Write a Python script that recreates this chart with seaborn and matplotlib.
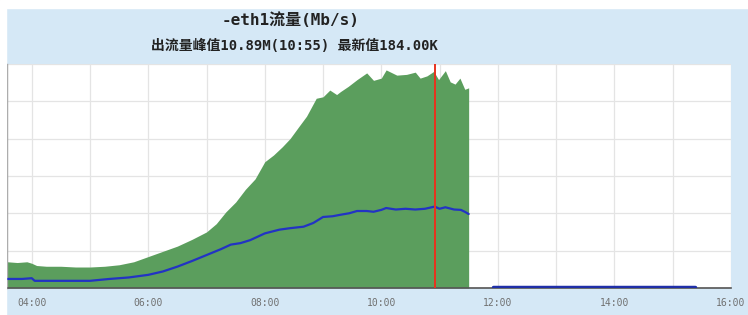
"""eth1 traffic chart (in / out, Mb/s)"""
import numpy as np
import pandas as pd
import matplotlib
matplotlib.use("Agg")
import matplotlib.pyplot as plt
import seaborn as sns


# inbound traffic (green area), Mb/s
in_times = ["03:35", "03:45", "03:55", "04:00", "04:05", "04:15", "04:30", "04:45",
            "05:00", "05:15", "05:30", "05:45", "06:00", "06:15", "06:30", "06:45",
            "07:00", "07:10", "07:20", "07:30", "07:40", "07:50", "08:00", "08:09",
            "08:18", "08:26", "08:35", "08:43", "08:53", "09:00", "09:07", "09:14",
            "09:18", "09:26", "09:35", "09:45", "09:52", "10:00", "10:05", "10:16",
            "10:26", "10:35", "10:40", "10:47", "10:54", "10:59", "11:06", "11:11",
            "11:16", "11:21", "11:26", "11:30"]
in_mbps = [3.5, 3.4, 3.5, 3.3, 3.0, 2.9, 2.9, 2.8,
           2.8, 2.9, 3.1, 3.5, 4.2, 4.9, 5.6, 6.5,
           7.5, 8.6, 10.2, 11.5, 13.2, 14.6, 16.9, 17.8,
           18.9, 20.0, 21.6, 23.0, 25.4, 25.6, 26.5, 25.9,
           26.3, 27.0, 27.9, 28.8, 27.8, 28.1, 29.2, 28.5,
           28.6, 28.9, 28.1, 28.4, 29.0, 27.9, 29.1, 27.6,
           27.3, 28.1, 26.6, 26.8]

# outbound traffic (blue line), Mb/s
out_times = ["03:35", "03:50", "04:00", "04:03", "04:30", "05:00", "05:20", "05:40",
             "06:00", "06:15", "06:30", "06:45", "07:00", "07:15", "07:25", "07:35",
             "07:45", "08:00", "08:15", "08:26", "08:40", "08:50", "09:00", "09:10",
             "09:18", "09:27", "09:35", "09:45", "09:52", "10:00", "10:05", "10:15",
             "10:25", "10:35", "10:45", "10:55", "11:00", "11:06", "11:15", "11:22",
             "11:26", "11:30"]
out_mbps = [1.2, 1.2, 1.3, 0.95, 0.95, 0.95, 1.2, 1.4,
            1.75, 2.2, 2.85, 3.6, 4.4, 5.2, 5.8, 6.0,
            6.4, 7.3, 7.8, 8.0, 8.2, 8.7, 9.5, 9.6,
            9.8, 10.0, 10.3, 10.3, 10.2, 10.45, 10.7, 10.5,
            10.6, 10.5, 10.6, 10.89, 10.6, 10.8, 10.5, 10.45,
            10.2, 9.9]

# outbound after the gap (latest value 184.00K)
tail_times = ["11:55", "15:23"]
tail_mbps = [0.184, 0.184]

peak_time = "10:55"
x_range = ("03:35", "16:00")
hour_ticks = list(range(4, 17))
y_max = 30
y_step = 5


def to_hours(labels):
    t = pd.to_datetime(pd.Series(labels), format="%H:%M")
    return (t.dt.hour + t.dt.minute / 60.0).to_numpy()


df_in = pd.DataFrame({"hour": to_hours(in_times), "mbps": in_mbps})
df_out = pd.DataFrame({"hour": to_hours(out_times), "mbps": out_mbps})
df_tail = pd.DataFrame({"hour": to_hours(tail_times), "mbps": tail_mbps})

sns.set_theme(style="white")
mono_cjk = ["DejaVu Sans Mono", "Noto Sans CJK SC"]
plt.rcParams["font.family"] = mono_cjk

bg = "#d5e8f6"
fig = plt.figure(figsize=(7.48, 3.15), dpi=100, facecolor=bg)
# white screenshot border (top / left)
fig.patches.append(plt.Rectangle((0, 0.975), 1, 0.025, transform=fig.transFigure,
                                 color="white", zorder=0))
fig.patches.append(plt.Rectangle((0, 0), 0.008, 1, transform=fig.transFigure,
                                 color="white", zorder=0))

ax = fig.add_axes([0.010, 0.086, 0.967, 0.711])
ax.set_facecolor("white")

ax.fill_between(df_in["hour"], 0, df_in["mbps"], color="#5b9e5d", lw=0, zorder=2)
sns.lineplot(data=df_out, x="hour", y="mbps", ax=ax, color="#2233c4", lw=1.6, zorder=3)
sns.lineplot(data=df_tail, x="hour", y="mbps", ax=ax, color="#1f2fa8", lw=2.5, zorder=3)
ax.axvline(to_hours([peak_time])[0], color="#e8321e", lw=1.4, zorder=4)

ax.set_xlim(*to_hours(list(x_range)))
ax.set_ylim(0, y_max)
ax.set_xticks(hour_ticks)
ax.set_xticklabels([f"{h:02d}:00" if h % 2 == 0 else "" for h in hour_ticks])
ax.set_yticks(np.arange(0, y_max + 1, y_step))
ax.set_yticklabels([])
ax.grid(True, color="#e4e4e4", lw=0.9, zorder=1)
ax.set_axisbelow(True)
ax.tick_params(axis="x", direction="in", length=4, width=1.2, color="#333333",
               labelsize=7, labelcolor="#707070", pad=7)
ax.tick_params(axis="y", length=0)
ax.set_xlabel("")
ax.set_ylabel("")

for side in ["top", "right"]:
    ax.spines[side].set_visible(False)
ax.spines["left"].set_color("#9a9a9a")
ax.spines["left"].set_linewidth(1.0)
ax.spines["bottom"].set_color("#555555")
ax.spines["bottom"].set_linewidth(1.2)

fig.text(0.388, 0.937, "-eth1流量(Mb/s)", ha="center", va="center",
         fontsize=11.5, fontweight="bold", color="#222222", family=mono_cjk)
fig.text(0.393, 0.855, "出流量峰值10.89M(10:55) 最新值184.00K", ha="center",
         va="center", fontsize=10, fontweight="bold", color="#222222",
         family=mono_cjk)

fig.savefig("out.png", dpi=100, facecolor=bg)
